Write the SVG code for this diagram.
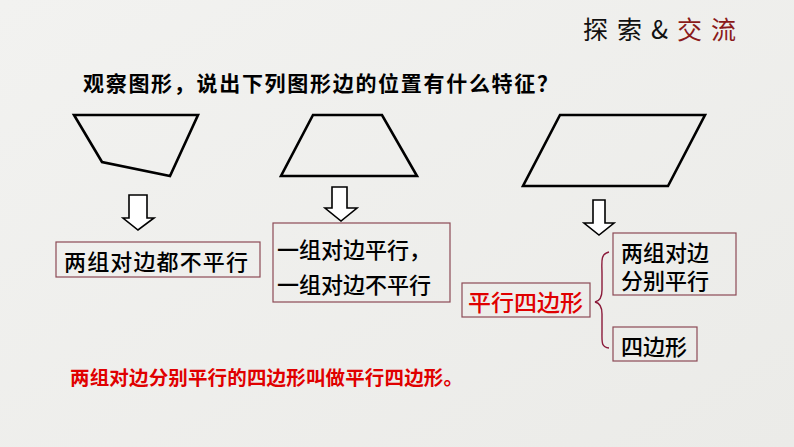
<svg xmlns="http://www.w3.org/2000/svg" width="794" height="447" viewBox="0 0 794 447">
<defs>
<linearGradient id="bg" x1="0" y1="0" x2="1" y2="1">
<stop offset="0" stop-color="#f2f2f0"/>
<stop offset="1" stop-color="#ebebe8"/>
</linearGradient>
</defs>
<style>
.cjk{font-family:"Noto Sans CJK SC","Noto Sans CJK JP",sans-serif;}
.shape{fill:none;stroke:#000;stroke-width:2.6;stroke-linejoin:miter;}
.arrow{fill:#fff;stroke:#000;stroke-width:1.6;stroke-linejoin:miter;}
.box{fill:none;stroke:#8c4a55;stroke-width:1.2;}
.t{font-size:22px;fill:#000;font-weight:500;}
.red{fill:#e00000;}
</style>
<rect width="794" height="447" fill="url(#bg)"/>
<g id="title">
<text class="cjk" x="583" y="39" font-size="25" letter-spacing="9" fill="#111">探索&amp;<tspan fill="#8b1a1a">交流</tspan></text>
</g>
<g id="question">
<text class="cjk" x="83" y="91" font-size="21" font-weight="bold" textLength="475" lengthAdjust="spacing">观察图形，说出下列图形边的位置有什么特征？</text>
</g>
<g id="shape1"><polygon class="shape" points="74,115 198,115 170,176 102,162"/></g>
<g id="shape2"><polygon class="shape" points="313,115 382,115 417,176 281,176"/></g>
<g id="shape3"><polygon class="shape" points="560,115 705,115 668,186 523,186"/></g>
<g id="connectors">
<polygon class="arrow" points="129,195 147,195 147,218 154,218 138,230 123,218 129,218"/>
<polygon class="arrow" points="332,187 347,187 347,208 357,208 341,221 325,208 332,208"/>
<polygon class="arrow" points="593,200 605,200 605,223 614,223 599,235 584,223 593,223"/>
<path d="M609,252 C600,254 602,262 602,274 L602,290 C602,297 600,301 595,302 C600,303 602,307 602,314 L602,332 C602,342 601,347 609,348" fill="none" stroke="#8b1a3a" stroke-width="1.4"/>
</g>
<g id="box1">
<rect class="box" x="56" y="242" width="204" height="35"/>
<text class="cjk t" x="64" y="270" textLength="184" lengthAdjust="spacing">两组对边都不平行</text>
</g>
<g id="box2">
<rect class="box" x="273" y="223" width="177" height="79"/>
<text class="cjk t" x="277" y="258">一组对边平行，</text>
<text class="cjk t" x="277" y="293">一组对边不平行</text>
</g>
<g id="box3">
<rect class="box" x="613" y="233" width="123" height="62"/>
<text class="cjk t" x="621" y="261">两组对边</text>
<text class="cjk t" x="621" y="289">分别平行</text>
</g>
<g id="box4">
<rect class="box" x="462" y="283" width="128" height="34"/>
<text class="cjk red" x="468" y="311" font-size="23" font-weight="500">平行四边形</text>
</g>
<g id="box5">
<rect class="box" x="613" y="327" width="84" height="34"/>
<text class="cjk t" x="621" y="355">四边形</text>
</g>
<g id="definition">
<text class="cjk red" x="70" y="385" font-size="19.5" font-weight="bold" textLength="393" lengthAdjust="spacing">两组对边分别平行的四边形叫做平行四边形。</text>
</g>
</svg>
